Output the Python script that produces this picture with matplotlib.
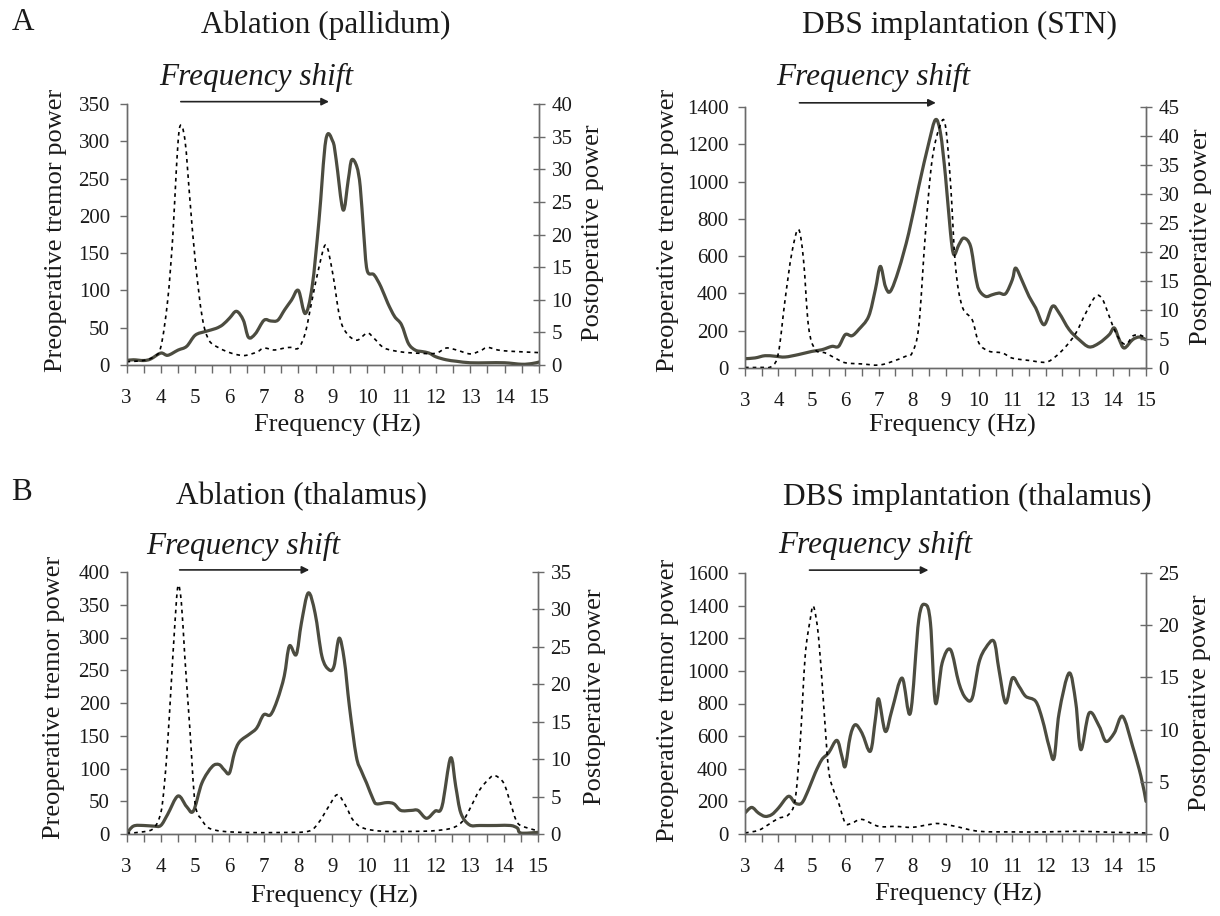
import matplotlib
matplotlib.use("Agg")
import matplotlib.pyplot as plt
from matplotlib.ticker import MultipleLocator
from matplotlib.path import Path
from matplotlib.patches import PathPatch

plt.rcParams['font.family'] = ['Liberation Serif', 'DejaVu Serif']

W, H = 1220, 916

# ---------------- Data ----------------
# Panel A-left: Ablation (pallidum)
pal_pre_f = [3.0, 3.2, 3.5, 3.7, 4.0, 4.2, 4.5, 4.75, 5.0, 5.3, 5.6, 5.8, 6.0, 6.2, 6.4, 6.55, 6.75, 7.0, 7.2, 7.4,
             7.6, 7.8, 8.0, 8.2, 8.4, 8.6, 8.8, 9.0, 9.1, 9.3, 9.45, 9.55, 9.7, 9.8, 9.9, 10.0, 10.2, 10.4, 10.6,
             10.8, 11.0, 11.2, 11.4, 11.6, 11.8, 12.0, 12.3, 12.6, 13.0, 13.5, 14.0, 14.5, 14.8, 15.0]
pal_pre_v = [6, 7, 6, 8, 16, 13, 20, 25, 40, 45, 49, 54, 63, 72, 60, 37, 42, 60, 59, 60,
             74, 87, 100, 69, 105, 194, 302, 300, 275, 208, 248, 275, 266, 239, 177, 127, 121, 105, 83,
             65, 54, 29, 20, 18, 16, 11, 7, 5, 3, 3, 3, 1, 2, 4]
pal_post_f = [3.0, 3.5, 3.8, 4.0, 4.2, 4.35, 4.45, 4.55, 4.7, 4.85, 5.0, 5.2, 5.4, 5.7, 6.0, 6.3, 6.5, 6.8, 7.0,
              7.3, 7.6, 7.8, 8.0, 8.2, 8.4, 8.6, 8.8, 9.0, 9.2, 9.4, 9.7, 10.0, 10.2, 10.5, 11.0, 11.5, 12.0,
              12.3, 12.6, 13.0, 13.3, 13.5, 13.8, 14.2, 15.0]
pal_post_v = [0.5, 0.7, 1.3, 2.8, 10, 20, 30, 36.5, 34.5, 25, 16, 7.4, 3.8, 2.6, 1.9, 1.5, 1.5, 2.0, 2.6,
              2.3, 2.6, 2.7, 2.6, 4.9, 10, 15, 18.4, 14, 7.4, 4.9, 3.8, 4.9, 4.1, 2.6, 2.0, 1.8, 1.8,
              2.6, 2.3, 1.7, 2.2, 2.7, 2.3, 2.1, 1.9]

# Panel A-right: DBS implantation (STN)
stn_pre_f = [3.0, 3.3, 3.6, 3.9, 4.2, 4.6, 5.0, 5.3, 5.6, 5.8, 6.0, 6.2, 6.4, 6.7, 6.9, 7.05, 7.2, 7.35, 7.6,
             7.9, 8.2, 8.5, 8.7, 8.85, 9.0, 9.15, 9.25, 9.4, 9.55, 9.75, 9.9, 10.0, 10.2, 10.4, 10.6, 10.8,
             11.0, 11.1, 11.3, 11.5, 11.7, 11.95, 12.2, 12.4, 12.7, 13.0, 13.3, 13.6, 13.9, 14.05, 14.2,
             14.35, 14.6, 14.8, 15.0]
stn_pre_v = [50, 54, 66, 63, 59, 72, 89, 98, 116, 116, 179, 173, 206, 277, 420, 545, 438, 411, 527,
             724, 974, 1207, 1332, 1260, 1028, 724, 608, 661, 697, 653, 492, 420, 384, 393, 402, 399,
             474, 536, 465, 384, 322, 232, 331, 295, 206, 152, 113, 134, 179, 215, 152,
             107, 152, 166, 152]
stn_post_f = [3.0, 3.5, 3.8, 4.0, 4.2, 4.4, 4.6, 4.75, 4.9, 5.1, 5.4, 5.7, 6.0, 6.5, 7.0, 7.4, 7.8, 8.0, 8.2,
              8.4, 8.6, 8.85, 9.0, 9.15, 9.3, 9.5, 9.8, 10.0, 10.3, 10.7, 11.0, 11.5, 12.0, 12.3, 12.6,
              12.9, 13.2, 13.5, 13.7, 13.9, 14.1, 14.3, 14.45, 14.6, 14.8, 15.0]
stn_post_v = [0.1, 0.1, 0.3, 2.6, 11.8, 19.8, 23.9, 18.7, 7.2, 3.2, 2.6, 1.7, 0.9, 0.7, 0.5, 1.1, 2.0, 2.6, 7.2,
              23.3, 35.9, 42, 41.7, 31.9, 17.5, 10.6, 8.3, 4.3, 2.9, 2.6, 1.7, 1.3, 1.0, 2.0, 3.7,
              6.0, 9.5, 12.4, 11.8, 8.9, 6.0, 4.3, 4.3, 5.5, 5.7, 5.2]

# Panel B-left: Ablation (thalamus)
tha_pre_f = [3.0, 3.2, 3.5, 3.8, 4.0, 4.2, 4.5, 4.75, 4.95, 5.2, 5.5, 5.7, 5.85, 6.0, 6.15, 6.3, 6.6, 6.8,
             7.0, 7.2, 7.4, 7.6, 7.75, 7.95, 8.1, 8.3, 8.5, 8.7, 8.9, 9.05, 9.2, 9.35, 9.5, 9.7, 9.85,
             10.0, 10.2, 10.3, 10.6, 10.8, 11.0, 11.3, 11.5, 11.75, 12.0, 12.2, 12.45, 12.6, 12.75,
             13.0, 13.3, 13.8, 14.2, 14.4, 14.5, 15.0]
tha_pre_v = [0, 12, 13, 12, 13, 30, 58, 42, 35, 78, 103, 106, 98, 93, 124, 141, 153, 162,
             182, 182, 205, 241, 287, 274, 322, 368, 337, 271, 251, 256, 299, 266, 195, 119, 96,
             78, 52, 46, 48, 46, 36, 36, 36, 24, 35, 42, 116, 73, 32,
             14, 13, 13, 13, 9, 1.5, 2.5]
tha_post_f = [3.0, 3.5, 3.8, 4.0, 4.1, 4.2, 4.3, 4.4, 4.5, 4.6, 4.7, 4.85, 5.0, 5.2, 5.4, 5.8, 6.5, 7.5, 8.3,
              8.6, 8.9, 9.15, 9.4, 9.6, 9.9, 10.5, 11.5, 12.0, 12.5, 12.8, 13.0, 13.3, 13.6, 13.75, 14.0,
              14.2, 14.4, 14.7, 15.0]
tha_post_v = [0.1, 0.3, 0.8, 2.8, 6.4, 12.2, 19.7, 27.3, 33.1, 30.9, 23.7, 13.9, 4.1, 1.9, 0.8, 0.36, 0.2, 0.2,
              0.36, 1.5, 3.7, 5.25, 3.7, 1.9, 0.8, 0.36, 0.36, 0.45, 0.8, 1.7, 3.25, 5.9, 7.5, 7.8, 6.8,
              4.1, 1.5, 0.8, 0.45]

# Panel B-right: DBS implantation (thalamus)
dth_pre_f = [3.0, 3.2, 3.4, 3.6, 3.8, 4.0, 4.3, 4.5, 4.7, 4.9, 5.1, 5.3, 5.5, 5.75, 5.9, 6.0, 6.15, 6.3, 6.5,
             6.75, 6.9, 7.0, 7.2, 7.4, 7.7, 7.95, 8.2, 8.4, 8.55, 8.7, 8.9, 9.15, 9.4, 9.6, 9.8, 10.0,
             10.2, 10.45, 10.6, 10.8, 11.0, 11.2, 11.4, 11.7, 11.9, 12.1, 12.25, 12.4, 12.7, 12.9, 13.05,
             13.3, 13.6, 13.8, 14.05, 14.3, 14.6, 14.85, 15.0]
dth_pre_v = [129, 163, 129, 108, 119, 159, 231, 190, 190, 272, 374, 456, 497, 574, 476, 415, 599, 670, 619,
             507, 701, 828, 629, 762, 956, 742, 1314, 1406, 1293, 803, 1049, 1130, 926, 834, 834, 1049,
             1140, 1181, 1007, 803, 956, 905, 844, 813, 701, 537, 466, 742, 987, 803, 517,
             742, 660, 568, 619, 721, 537, 353, 200]
dth_post_f = [3.0, 3.4, 3.7, 4.0, 4.3, 4.5, 4.65, 4.8, 4.95, 5.05, 5.2, 5.35, 5.5, 5.65, 5.8, 6.0, 6.2, 6.5,
              7.0, 7.5, 8.0, 8.5, 8.8, 9.3, 10.0, 11.0, 12.0, 13.0, 14.0, 15.0]
dth_post_v = [0.1, 0.35, 0.9, 1.5, 1.85, 3.3, 8.7, 17, 20.5, 21.8, 18.9, 12.5, 6.2, 4.2, 3.0, 1.05, 1.05, 1.4,
              0.73, 0.73, 0.64, 0.9, 1.0, 0.73, 0.26, 0.2, 0.2, 0.26, 0.16, 0.1]

x_ticks = list(range(3, 16))

# ---------------- Helpers ----------------
def smooth_path(xs, ys):
    """Excel-style smoothed line: cubic Bezier segments through the points (Catmull-Rom tangents)."""
    n = len(xs)
    verts = [(xs[0], ys[0])]
    codes = [Path.MOVETO]
    for i in range(n - 1):
        x0, y0 = (xs[i - 1], ys[i - 1]) if i > 0 else (xs[i], ys[i])
        x1, y1 = xs[i], ys[i]
        x2, y2 = xs[i + 1], ys[i + 1]
        x3, y3 = (xs[i + 2], ys[i + 2]) if i + 2 < n else (x2, y2)
        c1 = (x1 + (x2 - x0) / 6.0, y1 + (y2 - y0) / 6.0)
        c2 = (x2 - (x3 - x1) / 6.0, y2 - (y3 - y1) / 6.0)
        verts += [c1, c2, (x2, y2)]
        codes += [Path.CURVE4] * 3
    return Path(verts, codes)


def smooth_line(ax, xs, ys, **kw):
    patch = PathPatch(smooth_path(xs, ys), facecolor='none', transform=ax.transData, **kw)
    ax.add_patch(patch)
    return patch


# ---------------- Layout ----------------
fig = plt.figure(figsize=(W / 100, H / 100), dpi=100)

def fx(x):
    return x / W

def fy(y):
    return 1 - y / H

panels = [
    dict(rect=(126.5, 539, 104, 365), pre=(pal_pre_f, pal_pre_v), post=(pal_post_f, pal_post_v),
         lmax=350, lstep=50, rmax=40, rstep=5, title="Ablation (pallidum)", title_xy=(326, 25),
         shift_xy=(256, 77), arrow=(4.58, 8.89, 1.009), xlabel_xy=(337, 425),
         yl_xy=(56, 230), yr_xy=(593, 233), letter=("A", 23, 23)),
    dict(rect=(745, 1146, 107, 368), pre=(stn_pre_f, stn_pre_v), post=(stn_post_f, stn_post_v),
         lmax=1400, lstep=200, rmax=45, rstep=5, title="DBS implantation (STN)", title_xy=(959, 25),
         shift_xy=(873, 77), arrow=(4.63, 8.71, 1.016), xlabel_xy=(952, 425),
         yl_xy=(668, 230), yr_xy=(1201, 237), letter=None),
    dict(rect=(126.5, 538, 572, 834), pre=(tha_pre_f, tha_pre_v), post=(tha_post_f, tha_post_v),
         lmax=400, lstep=50, rmax=35, rstep=5, title="Ablation (thalamus)", title_xy=(302, 497),
         shift_xy=(243, 546), arrow=(4.55, 8.33, 1.008), xlabel_xy=(334, 896),
         yl_xy=(54, 697), yr_xy=(595, 697), letter=("B", 21, 492)),
    dict(rect=(745, 1146, 573, 834), pre=(dth_pre_f, dth_pre_v), post=(dth_post_f, dth_post_v),
         lmax=1600, lstep=200, rmax=25, rstep=5, title="DBS implantation (thalamus)", title_xy=(967, 497),
         shift_xy=(875, 545), arrow=(4.93, 8.49, 1.011), xlabel_xy=(958, 894),
         yl_xy=(668, 700), yr_xy=(1200, 703), letter=None),
]

SOLID = '#4c4c40'
SPINE = '#6a6a6a'
TXT = '#1a1a1a'
TICK_FS = 15
LABEL_FS = 19
TITLE_FS = 22.5
SHIFT_FS = 22.5

for p in panels:
    x0, x1, y0, y1 = p['rect']
    ax = fig.add_axes([fx(x0), fy(y1), (x1 - x0) / W, (y1 - y0) / H])
    ax2 = ax.twinx()

    smooth_line(ax, p['pre'][0], p['pre'][1], edgecolor=SOLID, lw=2.3, capstyle='round',
                joinstyle='round', zorder=3)
    smooth_line(ax2, p['post'][0], p['post'][1], edgecolor='black', lw=1.2,
                linestyle=(0, (2.2, 2.4)), zorder=2)

    ax.set_xlim(3, 15)
    ax.set_ylim(0, p['lmax'])
    ax2.set_ylim(0, p['rmax'])
    ax.set_xticks(x_ticks)
    ax.xaxis.set_minor_locator(MultipleLocator(0.5))
    ax.yaxis.set_major_locator(MultipleLocator(p['lstep']))
    ax2.yaxis.set_major_locator(MultipleLocator(p['rstep']))

    for a in (ax, ax2):
        a.spines['top'].set_visible(False)
        for s in a.spines.values():
            s.set_color(SPINE)
            s.set_linewidth(1.0)
        a.patch.set_visible(False)

    ax.tick_params(axis='x', which='both', direction='out', length=6, width=1.0, color=SPINE,
                   labelsize=TICK_FS, labelcolor=TXT, pad=11)
    ax.tick_params(axis='x', which='minor', length=6)
    ax.tick_params(axis='y', direction='out', length=5, width=1.0, color=SPINE,
                   labelsize=TICK_FS, labelcolor=TXT, pad=7)
    ax2.tick_params(axis='y', direction='inout', length=8, width=1.0, color=SPINE,
                    labelsize=TICK_FS, labelcolor=TXT, pad=5)

    # titles and labels
    fig.text(fx(p['title_xy'][0]), fy(p['title_xy'][1]), p['title'], ha='center', va='center',
             fontsize=TITLE_FS, color=TXT)
    fig.text(fx(p['shift_xy'][0]), fy(p['shift_xy'][1]), "Frequency shift", ha='center', va='center',
             fontsize=SHIFT_FS, style='italic', color=TXT)
    fig.text(fx(p['xlabel_xy'][0]), fy(p['xlabel_xy'][1]), "Frequency (Hz)", ha='center', va='center',
             fontsize=LABEL_FS, color=TXT)
    fig.text(fx(p['yl_xy'][0]), fy(p['yl_xy'][1]), "Preoperative tremor power", ha='center', va='center',
             rotation=90, fontsize=LABEL_FS, color=TXT)
    fig.text(fx(p['yr_xy'][0]), fy(p['yr_xy'][1]), "Postoperative power", ha='center', va='center',
             rotation=90, fontsize=LABEL_FS, color=TXT)
    if p['letter']:
        t, lx, ly = p['letter']
        fig.text(fx(lx), fy(ly), t, ha='center', va='center', fontsize=TITLE_FS, color=TXT)

    a0, a1, ay = p['arrow']
    ax.annotate("", xy=(a1, ay), xytext=(a0, ay), xycoords=('data', 'axes fraction'),
                textcoords=('data', 'axes fraction'), annotation_clip=False,
                arrowprops=dict(arrowstyle='-|>', color='#222222', lw=1.2,
                                mutation_scale=11, shrinkA=0, shrinkB=0))

fig.savefig("out.png", dpi=100)
